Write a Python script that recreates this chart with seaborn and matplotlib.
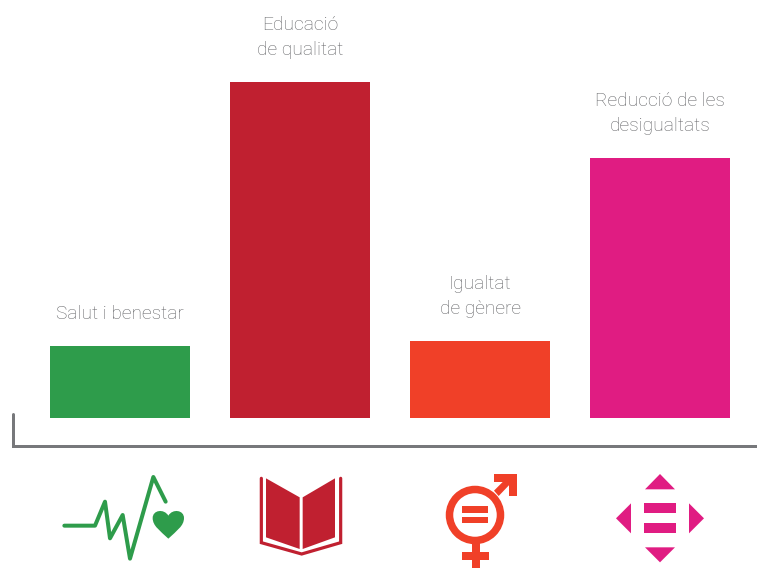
import matplotlib
matplotlib.use("Agg")
import matplotlib.pyplot as plt
import pandas as pd
import seaborn as sns
from matplotlib.patches import Circle, PathPatch, Polygon, Rectangle
from matplotlib.path import Path

sns.set_style("white")
plt.rcParams["font.family"] = ["Roboto", "DejaVu Sans"]

# Data
categories = ["Salut i benestar", "Educació\nde qualitat", "Igualtat\nde gènere", "Reducció de les\ndesigualtats"]
values = [72, 336, 77, 260]
colors = ["#2e9c4b", "#c02030", "#f04028", "#e01c82"]
label_color = "#626366"
axis_color = "#77787b"

df = pd.DataFrame({"category": categories, "value": values})

W, H = 757, 568
fig = plt.figure(figsize=(W / 100, H / 100), dpi=100)

# main axes fill the figure, one y unit is one pixel, baseline at y=418
ax = fig.add_axes([0, 0, 1, 1])
sns.barplot(data=df, x="category", y="value", hue="category", palette=colors,
            width=140 / 180, legend=False, saturation=1, linewidth=0, ax=ax)
ax.set_xlim(-120 / 180, (W - 120) / 180)
ax.set_ylim(418 - H, 418)
ax.axis("off")

for i, (cat, val) in enumerate(zip(categories, values)):
    ax.annotate(cat, (i, val), xytext=(0, 23), textcoords="offset pixels",
                ha="center", va="bottom", fontsize=13.8, color=label_color,
                fontweight="light", linespacing=1.5)

# overlay in picture pixels for the frame line and the icons
ov = fig.add_axes([0, 0, 1, 1])
ov.set_xlim(0, W)
ov.set_ylim(H, 0)
ov.axis("off")
ov.patch.set_alpha(0)

LW = 72 / 100  # points per pixel

ov.plot([13, 13, W], [414, 446, 446], color=axis_color, lw=3 * LW, solid_joinstyle="miter")


def z1(pts):
    return [(x / 3, 400 + y / 3) for x, y in pts]


def z2(pts):
    return [(380 + x / 3, 400 + y / 3) for x, y in pts]


def poly(pts, color):
    ov.add_patch(Polygon(pts, closed=True, facecolor=color, edgecolor="none"))


def rect(pts, color):
    (x0, y0), (x1, y1) = pts
    ov.add_patch(Rectangle((x0, y0), x1 - x0, y1 - y0, facecolor=color, edgecolor="none"))


# health icon
pulse = z1([(193, 377), (285, 377), (315, 305), (330, 415), (368, 345), (390, 476), (460, 231), (497, 305)])
ov.plot(*zip(*pulse), color=colors[0], lw=4 * LW, solid_joinstyle="round", solid_capstyle="round")
heart = z1([(505, 416), (480, 392), (458, 378), (458, 354), (458, 330), (492, 325), (505, 347),
            (518, 325), (552, 330), (552, 354), (552, 378), (530, 392), (505, 416), (505, 416)])
heart_codes = [Path.MOVETO, Path.CURVE4, Path.CURVE4, Path.CURVE4, Path.CURVE4, Path.CURVE4, Path.CURVE4,
               Path.CURVE4, Path.CURVE4, Path.CURVE4, Path.CURVE4, Path.CURVE4, Path.CURVE4, Path.CLOSEPOLY]
ov.add_patch(PathPatch(Path(heart, heart_codes), facecolor=colors[0], edgecolor="none"))

# book icon
poly(z1([(798, 235), (899, 292), (899, 447), (798, 412)]), colors[1])
poly(z1([(908, 292), (1005, 235), (1005, 412), (908, 447)]), colors[1])
cover = z1([(784, 235), (784, 428), (905, 462), (1022, 428), (1022, 235)])
ov.plot(*zip(*cover), color=colors[1], lw=3.2 * LW, solid_joinstyle="miter")

# gender icon
cx, cy = z2([(285, 345)])[0]
ov.add_patch(Circle((cx, cy), 25.5, facecolor="none", edgecolor=colors[2], lw=7.5 * LW))
rect(z2([(247, 318), (325, 338)]), colors[2])
rect(z2([(247, 352), (325, 370)]), colors[2])
poly(z2([(342, 272), (388, 226), (402, 240), (356, 288)]), colors[2])
poly(z2([(342, 222), (411, 222), (411, 288), (388, 288), (388, 245), (342, 245)]), colors[2])
rect(z2([(275, 430), (300, 504)]), colors[2])
rect(z2([(247, 456), (327, 480)]), colors[2])

# inequality icon
poly(z2([(795, 268), (885, 268), (840, 222)]), colors[3])
poly(z2([(795, 442), (885, 442), (840, 487)]), colors[3])
poly(z2([(753, 310), (753, 400), (708, 355)]), colors[3])
poly(z2([(927, 310), (927, 400), (972, 355)]), colors[3])
rect(z2([(792, 310), (888, 340)]), colors[3])
rect(z2([(792, 370), (888, 400)]), colors[3])

fig.savefig("out.png", dpi=100, facecolor="white")
